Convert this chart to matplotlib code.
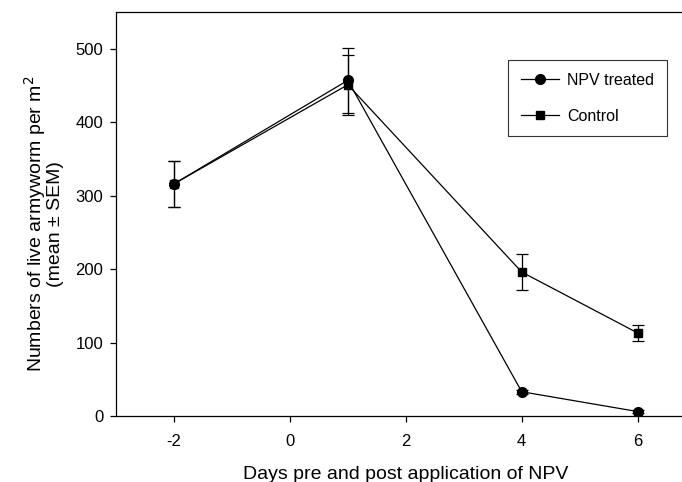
import matplotlib.pyplot as plt

plt.rcParams['font.family'] = ['Liberation Sans', 'DejaVu Sans']
plt.rcParams['axes.unicode_minus'] = False

# ---------------- data ----------------
days = [-2, 1, 4, 6]
npv_mean = [316, 457, 33, 6]
npv_sem = [31, 44, 3, 2]
ctrl_mean = [316, 451, 196, 113]
ctrl_sem = [31, 41, 25, 11]

fig = plt.figure(figsize=(6.82, 4.82), dpi=100)
ax = fig.add_axes([0.170, 0.137, 0.850, 0.838])

ax.errorbar(days, npv_mean, yerr=npv_sem, color="black", lw=0.9, marker="o", ms=7,
            capsize=4.5, elinewidth=0.9, capthick=0.9, label="NPV treated")
ax.errorbar(days, ctrl_mean, yerr=ctrl_sem, color="black", lw=0.9, marker="s", ms=6,
            capsize=4.5, elinewidth=0.9, capthick=0.9, label="Control")

ax.set_xlim(-3, 7)
ax.set_ylim(0, 550)
ax.set_xticks([-2, 0, 2, 4, 6])
ax.set_yticks([0, 100, 200, 300, 400, 500])
ax.tick_params(direction="out", length=4, width=0.9, labelsize=12)
ax.tick_params(axis="x", pad=9)
ax.tick_params(axis="y", pad=5)
for s in ax.spines.values():
    s.set_linewidth(0.9)

ax.set_xlabel("Days pre and post application of NPV", fontsize=14, labelpad=12)
ax.set_ylabel("Numbers of live armyworm per m$^2$\n(mean ± SEM)", fontsize=14,
              labelpad=8, linespacing=0.95)
ax.yaxis.label.set_y(0.475)

handles, labels = ax.get_legend_handles_labels()
handles = [h[0] for h in handles]
leg = ax.legend(handles, labels, loc="upper right", bbox_to_anchor=(0.95, 0.881),
                borderaxespad=0, fontsize=11.5, frameon=True, fancybox=False,
                edgecolor="black", handlelength=2.4, handletextpad=0.5,
                labelspacing=1.3, borderpad=0.8)
leg.get_frame().set_linewidth(0.8)

fig.savefig("out.png", dpi=100)
